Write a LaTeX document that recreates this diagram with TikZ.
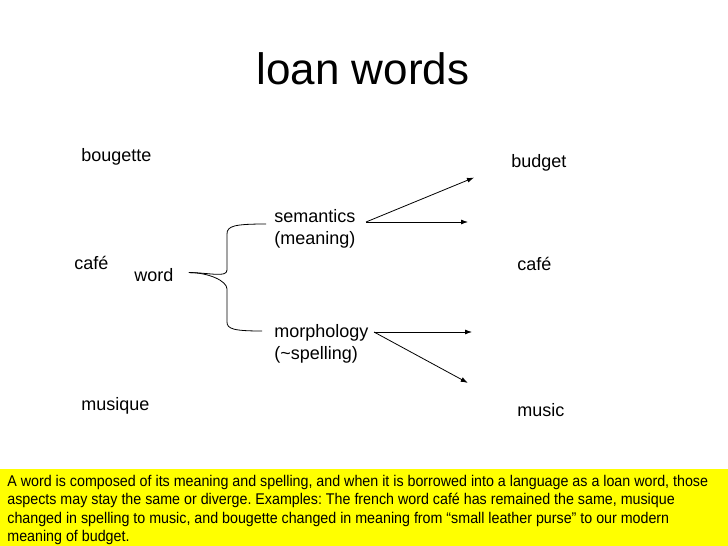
\documentclass[tikz,border=0pt]{standalone}
\usepackage{fontspec}
\setmainfont{Liberation Sans}
\newfontfamily\notefont[FakeStretch=0.92]{Liberation Sans}
\usetikzlibrary{arrows.meta, calc}
\definecolor{NoteYellow}{RGB}{255, 255, 0}
\frenchspacing

\begin{document}
\begin{tikzpicture}[x=1pt, y=-1pt, line width=0.8pt,
    wordlabel/.style={anchor=base west, inner sep=0pt, font=\fontsize{18}{22.5}\selectfont, align=left},
    loanarrow/.style={-{Latex[length=7pt, width=5pt]}}]
        \useasboundingbox (0, 0) rectangle (728, 546);

        % Title
        \node[anchor=base, inner sep=0pt, font=\fontsize{44}{50}\selectfont] (title) at (363, 84) {loan words};

        % French words
        \node[wordlabel] (bougette) at (81, 161) {bougette};
        \node[wordlabel] (cafeL) at (74, 269) {café};
        \node[wordlabel] (musique) at (81, 410) {musique};
        \node[wordlabel] (word) at (134, 281) {word};

        % Aspects (base = last line)
        \node[wordlabel] (sem) at (274, 244.5) {semantics\\(meaning)};
        \node[wordlabel] (morph) at (274, 359.5) {morphology\\(\textasciitilde spelling)};

        % English words
        \node[wordlabel] (budget) at (511, 167) {budget};
        \node[wordlabel] (cafeR) at (517, 270) {café};
        \node[wordlabel] (music) at (517, 416) {music};

        % Brace
        \coordinate (tip) at ($(word.east)+(15, -2)$);
        \draw (tip) .. controls ++(20, 0) and (227, 278) .. (227, 270) -- (227, 234)
            .. controls (227, 226) and (234, 224) .. (266, 224);
        \draw (tip) .. controls ++(20, 0) and (227, 281) .. (227, 289) -- (227, 322)
            .. controls (227, 329) and (234, 331) .. (262, 331);

        % Arrows
        \coordinate (semOut) at (366, 222);
        \coordinate (morphOut) at (374, 332);
        \coordinate (semEnd) at (468, 222);
        \coordinate (morphEnd) at (472, 332);
        \draw[loanarrow, shorten >=40pt] (semOut) -- (budget.west);
        \draw[loanarrow] (semOut) -- (semEnd);
        \draw[loanarrow] (morphOut) -- (morphEnd);
        \draw[loanarrow, shorten >=56pt] (morphOut) -- (music.west);

        % Note
        \fill[NoteYellow] (0, 469) rectangle (728, 546);
        \node[anchor=base west, inner sep=0pt, align=left, font=\notefont\fontsize{15.5}{18.5}\selectfont] (note) at (7, 541.5)
            {A word is composed of its meaning and spelling, and when it is borrowed into a language as a loan word, those\\
             aspects may stay the same or diverge. Examples: The french word café has remained the same, musique\\
             changed in spelling to music, and bougette changed in meaning from “small leather purse” to our modern\\
             meaning of budget.};
    \end{tikzpicture}
\end{document}
